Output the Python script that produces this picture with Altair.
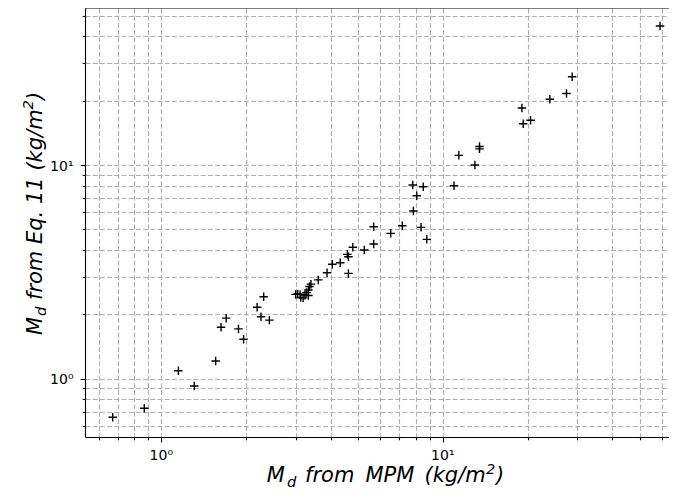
import altair as alt
import pandas as pd

# M_d from MPM (x) and from Eq. 11 (y), kg/m^2
md_mpm = [0.672, 0.870, 1.15, 1.31, 1.56, 1.63, 1.70, 1.88, 1.96, 2.19, 2.26, 2.31, 2.42,
          3.00, 3.05, 3.11, 3.13, 3.19, 3.24, 3.28, 3.33, 3.33, 3.36, 3.40, 3.61, 3.88,
          4.05, 4.32, 4.62, 4.58, 4.62, 4.79, 5.26, 5.68, 5.68, 6.53, 7.18, 8.37, 8.77,
          7.86, 8.08, 7.82, 8.52, 10.96, 11.4, 13.0, 13.5, 13.5, 19.3, 20.5, 19.1, 24.0,
          27.5, 28.8, 59.1]
md_eq11 = [0.660, 0.727, 1.09, 0.924, 1.21, 1.74, 1.92, 1.71, 1.53, 2.16, 1.95, 2.42, 1.88,
           2.48, 2.49, 2.48, 2.40, 2.39, 2.46, 2.53, 2.60, 2.45, 2.70, 2.77, 2.90, 3.13,
           3.43, 3.49, 3.72, 3.82, 3.11, 4.12, 4.00, 5.14, 4.27, 4.79, 5.20, 5.11, 4.49,
           6.09, 7.18, 8.06, 7.91, 8.0, 11.1, 10.0, 12.2, 11.9, 15.6, 16.2, 18.5, 20.3,
           21.6, 25.9, 44.7]

x_ticks = [0.6, 0.7, 0.8, 0.9, 1, 2, 3, 4, 5, 6, 7, 8, 9, 10, 20, 30, 40, 50, 60]
y_ticks = [0.6, 0.7, 0.8, 0.9, 1, 2, 3, 4, 5, 6, 7, 8, 9, 10, 20, 30, 40, 50]
decades = [1, 10]
decade_labels = ["10\u2070", "10\u00b9"]
x_domain = [0.5357, 63.6]
y_domain = [0.5336, 54.3]

df = pd.DataFrame({"mpm": md_mpm, "eq11": md_eq11})
dec = pd.DataFrame({"v": decades, "t": decade_labels})

xs = alt.Scale(type="log", domain=x_domain, nice=False)
ys = alt.Scale(type="log", domain=y_domain, nice=False)
tsize = {"condition": {"test": "datum.value == 1 || datum.value == 10", "value": 4.9}, "value": 2.8}


def ax(vals):
    return alt.Axis(values=vals, labels=False, title=None, grid=True,
                    gridDash=[5, 2.2], gridColor="#b0b0b0", gridWidth=1.1,
                    tickSize=tsize, tickColor="black", tickWidth=1.1,
                    domainColor="black", domainWidth=1.1)


points = alt.Chart(df).mark_point(
    shape="M-1,0L1,0M0,-1L0,1", size=72, filled=False, color="black",
    strokeWidth=1.4, opacity=1
).encode(
    x=alt.X("mpm:Q", scale=xs, axis=ax(x_ticks)),
    y=alt.Y("eq11:Q", scale=ys, axis=ax(y_ticks)),
)

xlab = alt.Chart(dec).mark_text(
    font="DejaVu Sans", fontSize=14, color="black", align="center", baseline="alphabetic"
).encode(x=alt.X("v:Q", scale=xs), y=alt.value(451.5), text="t:N")

ylab = alt.Chart(dec).mark_text(
    font="DejaVu Sans", fontSize=14, color="black", align="right", baseline="middle", dy=1.5
).encode(y=alt.Y("v:Q", scale=ys), x=alt.value(-11.5), text="t:N")

spine = alt.Chart(alt.Data(values=[{}])).mark_rule(color="black", strokeWidth=1.1).encode(
    x=alt.value(0), x2=alt.value(584), y=alt.value(0)
)


def piece(txt, x, y, size=21, angle=0):
    return alt.Chart(alt.Data(values=[{}])).mark_text(
        text=txt, font="DejaVu Sans", fontStyle="italic", fontSize=size,
        angle=angle, align="left", baseline="alphabetic", color="black"
    ).encode(x=alt.value(x), y=alt.value(y))


# x title pieces (left-aligned, relative to plot origin)
bx = 474
pieces = [
    piece("M", 181.7, bx), piece("d", 202, bx + 4.5, 14.7), piece("from", 220, bx),
    piece("MPM", 280.5, bx), piece("(", 339.5, bx), piece("kg/m", 347.7, bx),
    piece("2", 401, bx - 8.5, 14.7), piece(")", 411, bx),
]
# y title pieces (rotated, reading upward)
yx = -43.3
pieces += [
    piece("M", yx, 327, angle=270), piece("d", yx + 4.5, 308, 14.7, angle=270),
    piece("from", yx, 292, angle=270), piece("Eq.", yx, 236, angle=270),
    piece("11", yx, 196, angle=270), piece("(", yx, 162.6, angle=270),
    piece("kg/m", yx, 154.4, angle=270), piece("2", yx - 8.5, 101.4, 14.7, angle=270),
    piece(")", yx, 92, angle=270),
]

chart = alt.layer(points, xlab, ylab, spine, *pieces).properties(
    width=584, height=429,
    autosize=alt.AutoSizeParams(type="none"),
    padding={"left": 77, "top": 0, "right": 0, "bottom": 52},
    background="white",
).configure_view(stroke=None)

chart.save("out.html", embed_options={"renderer": "svg", "actions": False})
